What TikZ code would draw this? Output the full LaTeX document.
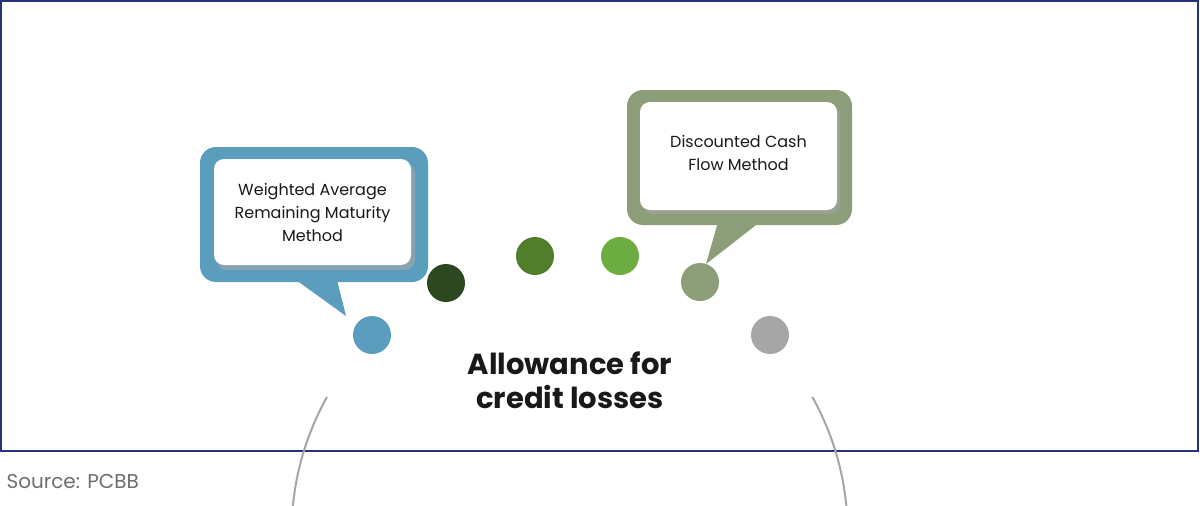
\documentclass[tikz,border=0pt]{standalone}
\usepackage{fontspec}
\setmainfont{Poppins}
\begin{document}
\begin{tikzpicture}[x=1pt,y=-1pt,
  dot/.style={circle,minimum size=38pt,inner sep=0pt},
  txt/.style={align=center,font=\fontsize{16}{23}\selectfont,text=black!90}]
\useasboundingbox (0,0) rectangle (1200,506);
\fill[white] (0,0) rectangle (1200,506);
\draw[color={rgb,255:red,40;green,50;blue,120},line width=2pt] (1,1) rectangle (1198,451);
\node[anchor=west,text={rgb,255:red,110;green,110;blue,110},font=\fontsize{20}{24}\selectfont] (src) at (3,482) {Source: PCBB};
% arc
\draw[color=black!35,line width=2pt] (327,397) arc[start angle=209.2,end angle=-29.2,radius=278];
% left callout
\definecolor{cb}{RGB}{91,157,189}
\definecolor{cg}{RGB}{139,158,121}
\fill[cb,rounded corners=16pt] (200,147) rectangle (428,282);
\fill[cb] (296,280) -- (337,280) -- (346,316) -- cycle;
\fill[black!35,rounded corners=10pt,opacity=0.6] (217,163) rectangle (415,270);
\fill[white,rounded corners=10pt] (214,159) rectangle (411,265);
\node[txt] (l) at (312.5,212) {Weighted Average\\Remaining Maturity\\Method};
% right callout
\fill[cg,rounded corners=16pt] (627,90) rectangle (852,225);
\fill[cg] (718,222) -- (760,222) -- (706,264) -- cycle;
\fill[black!35,rounded corners=10pt,opacity=0.6] (643,106) rectangle (840,214);
\fill[white,rounded corners=10pt] (640,102) rectangle (837,210);
\node[txt] (r) at (738.5,153) {Discounted Cash\\Flow Method};
% dots
\node[dot,fill=cb] (d1) at (372,335) {};
\node[dot,fill={rgb,255:red,45;green,72;blue,32}] (d2) at (446,283) {};
\node[dot,fill={rgb,255:red,80;green,126;blue,42}] (d3) at (535,256) {};
\node[dot,fill={rgb,255:red,108;green,173;blue,66}] (d4) at (620,256) {};
\node[dot,fill=cg] (d5) at (700,282) {};
\node[dot,fill=black!35] (d6) at (770,335) {};
\node[align=center,font=\fontsize{29}{34}\selectfont\bfseries,text=black!90] (t) at (570,380) {Allowance for\\credit losses};
\end{tikzpicture}
\end{document}
